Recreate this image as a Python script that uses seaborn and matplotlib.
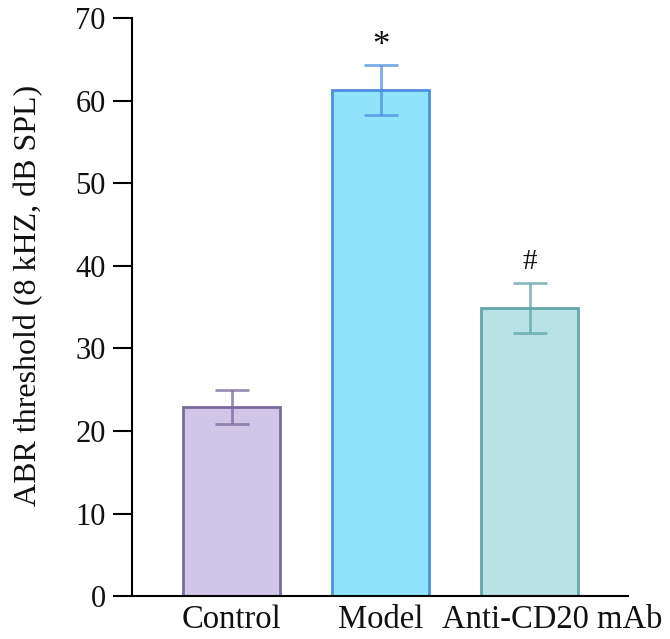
import matplotlib
matplotlib.use("Agg")
import matplotlib.pyplot as plt
import matplotlib.transforms as mtransforms
import seaborn as sns
import pandas as pd

groups = ["Control", "Model", "Anti-CD20 mAb"]
threshold = [22.9, 61.3, 34.9]
sem = [2.0, 3.05, 3.0]
marks = ["", "*", "#"]

fill_colors = ["#D0C6E8", "#8FE3FD", "#B8E2E5"]
edge_colors = ["#7A6A9C", "#4C8FE0", "#62A6AA"]

sns.set_style("ticks")
plt.rcParams["font.family"] = ["Liberation Serif", "DejaVu Serif"]
plt.rcParams["text.color"] = "#111111"
plt.rcParams["axes.labelcolor"] = "#111111"
plt.rcParams["xtick.labelcolor"] = "#111111"
plt.rcParams["ytick.labelcolor"] = "#111111"

df = pd.DataFrame({"group": groups, "threshold": threshold})

fig = plt.figure(figsize=(6.7, 6.39), dpi=100)
ax = fig.add_axes([0.197, 0.067, 0.74, 0.905])

sns.barplot(data=df, x="group", y="threshold", hue="group", palette=fill_colors,
            saturation=1, width=0.65, errorbar=None, legend=False, ax=ax)

for i, patch in enumerate(ax.patches):
    patch.set_edgecolor(edge_colors[i])
    patch.set_linewidth(2)

# error bars and significance marks
for i in range(len(groups)):
    ax.errorbar(i, threshold[i], yerr=sem[i], fmt="none", ecolor=edge_colors[i],
                alpha=0.75, elinewidth=2, capsize=12, capthick=2)
    if marks[i] == "*":
        ax.text(i, threshold[i] + sem[i] + 0.2, marks[i], ha="center", va="bottom", fontsize=25)
    elif marks[i]:
        ax.text(i, threshold[i] + sem[i] + 1.0, marks[i], ha="center", va="bottom", fontsize=21)

ax.set_ylim(0, 70)
ax.set_xlim(-0.67, 2.66)
ax.set_yticks(range(0, 71, 10))
ax.set_xlabel("")
ax.set_ylabel("ABR threshold (8 kHZ, dB SPL)", fontsize=23)
ax.yaxis.set_label_coords(-0.18, 0.52)
ax.tick_params(axis="y", labelsize=22, length=14, width=1.5, pad=5, color="black")
ax.tick_params(axis="x", labelsize=23.5, length=0, pad=6)
sns.despine(ax=ax)
for side in ["left", "bottom"]:
    ax.spines[side].set_linewidth(1.5)
    ax.spines[side].set_color("black")

# the long last label sits a bit to the right of its bar
shift = mtransforms.ScaledTranslation(0.23, 0, fig.dpi_scale_trans)
last = ax.get_xticklabels()[-1]
last.set_transform(last.get_transform() + shift)

plt.savefig("out.png", dpi=100)
print("Saved: out.png")
